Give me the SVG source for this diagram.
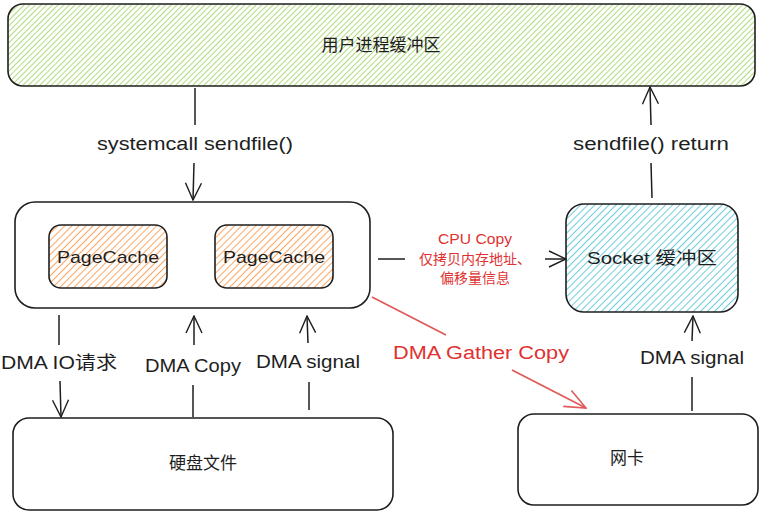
<svg xmlns="http://www.w3.org/2000/svg" width="762" height="514" viewBox="0 0 762 514">
<defs>
<pattern id="hg" width="4" height="4" patternUnits="userSpaceOnUse" patternTransform="rotate(45)"><line x1="0" y1="0" x2="0" y2="4" stroke="#84c935" stroke-width="1.3"/></pattern>
<pattern id="ho" width="5" height="5" patternUnits="userSpaceOnUse" patternTransform="rotate(45)"><line x1="0" y1="0" x2="0" y2="5" stroke="#fd8f3a" stroke-width="1.6"/></pattern>
<pattern id="hb" width="5" height="5" patternUnits="userSpaceOnUse" patternTransform="rotate(45)"><line x1="0" y1="0" x2="0" y2="5" stroke="#3bbcd1" stroke-width="1.5"/></pattern>
<marker id="ah" viewBox="0 0 20 20" refX="19" refY="10" markerWidth="20" markerHeight="20" markerUnits="userSpaceOnUse" orient="auto"><path d="M2,2 L19,10 L2,18" fill="none" stroke="#1e1e1e" stroke-width="1.4"/></marker>
<marker id="ahr" viewBox="0 0 24 24" refX="23" refY="12" markerWidth="24" markerHeight="24" markerUnits="userSpaceOnUse" orient="auto"><path d="M2,3 L23,12 L2,21" fill="none" stroke="#e05a5a" stroke-width="1.6"/></marker>
</defs>
<style>
.box{stroke:#1e1e1e;stroke-width:1.6}
.t{font-family:"Liberation Sans","Noto Sans CJK SC",sans-serif;fill:#1e1e1e;text-anchor:middle;dominant-baseline:central}
.lbl{font-size:18px}
.red{fill:#e03131}
.ln{stroke:#1e1e1e;stroke-width:1.5;fill:none}
.rl{stroke:#e05a5a;stroke-width:1.8;fill:none}
</style>
<rect width="762" height="514" fill="#ffffff"/>

<g id="user-buffer">
<rect class="box" x="8" y="4" width="747" height="82" rx="15" fill="url(#hg)"/>
<text class="t" x="381" y="45" font-size="17">用户进程缓冲区</text>
</g>

<g id="kernel">
<rect class="box" x="15" y="202" width="355" height="106" rx="20" fill="#ffffff"/>
</g>
<g id="pagecache1">
<rect class="box" x="49" y="225" width="118" height="63" rx="12" fill="url(#ho)"/>
<text class="t" x="108" y="257" font-size="17" textLength="102" lengthAdjust="spacingAndGlyphs">PageCache</text>
</g>
<g id="pagecache2">
<rect class="box" x="215" y="225" width="118" height="63" rx="12" fill="url(#ho)"/>
<text class="t" x="274" y="257" font-size="17" textLength="102" lengthAdjust="spacingAndGlyphs">PageCache</text>
</g>

<g id="socket-buffer">
<rect class="box" x="566" y="204" width="172" height="108" rx="18" fill="url(#hb)"/>
<text class="t" x="652" y="258" font-size="17" textLength="130" lengthAdjust="spacingAndGlyphs">Socket 缓冲区</text>
</g>

<g id="disk">
<rect class="box" x="13" y="418" width="380" height="92" rx="16" fill="#ffffff"/>
<text class="t" x="203" y="463" font-size="17">硬盘文件</text>
</g>

<g id="nic">
<rect class="box" x="518" y="414" width="240" height="91" rx="16" fill="#ffffff"/>
<text class="t" x="627" y="458" font-size="17">网卡</text>
</g>

<g id="connectors">
<line class="ln" x1="195" y1="88" x2="195" y2="125"/>
<line class="ln" x1="194" y1="163" x2="193" y2="200" marker-end="url(#ah)"/>
<text class="t lbl" x="195" y="144" textLength="196" lengthAdjust="spacingAndGlyphs">systemcall sendfile()</text>

<line class="ln" x1="652" y1="198" x2="651" y2="163"/>
<line class="ln" x1="651" y1="125" x2="650" y2="87" marker-end="url(#ah)"/>
<text class="t lbl" x="651" y="144" textLength="156" lengthAdjust="spacingAndGlyphs">sendfile() return</text>

<line class="ln" x1="378" y1="259" x2="405" y2="259"/>
<line class="ln" x1="545" y1="259" x2="566" y2="259" marker-end="url(#ah)"/>
<text class="t red" x="475" y="239" font-size="14" textLength="74" lengthAdjust="spacingAndGlyphs">CPU Copy</text>
<text class="t red" x="475" y="259" font-size="14">仅拷贝内存地址、</text>
<text class="t red" x="475" y="278" font-size="14">偏移量信息</text>

<line class="ln" x1="59" y1="315" x2="59" y2="345"/>
<line class="ln" x1="60" y1="381" x2="61" y2="417" marker-end="url(#ah)"/>
<text class="t lbl" x="59" y="363" textLength="116" lengthAdjust="spacingAndGlyphs">DMA IO请求</text>

<line class="ln" x1="193" y1="417" x2="193" y2="385"/>
<line class="ln" x1="194" y1="345" x2="194" y2="316" marker-end="url(#ah)"/>
<text class="t lbl" x="193" y="366" textLength="96" lengthAdjust="spacingAndGlyphs">DMA Copy</text>

<line class="ln" x1="309" y1="410" x2="309" y2="382"/>
<line class="ln" x1="308" y1="343" x2="307" y2="316" marker-end="url(#ah)"/>
<text class="t lbl" x="308" y="362" textLength="104" lengthAdjust="spacingAndGlyphs">DMA signal</text>

<line class="ln" x1="692" y1="411" x2="692" y2="377"/>
<line class="ln" x1="692" y1="341" x2="693" y2="316" marker-end="url(#ah)"/>
<text class="t lbl" x="692" y="358" textLength="104" lengthAdjust="spacingAndGlyphs">DMA signal</text>

<line class="rl" x1="372" y1="297" x2="446" y2="335"/>
<line class="rl" x1="512" y1="370" x2="586" y2="408" marker-end="url(#ahr)"/>
<text class="t lbl red" x="481" y="353" textLength="176" lengthAdjust="spacingAndGlyphs">DMA Gather Copy</text>
</g>
</svg>
